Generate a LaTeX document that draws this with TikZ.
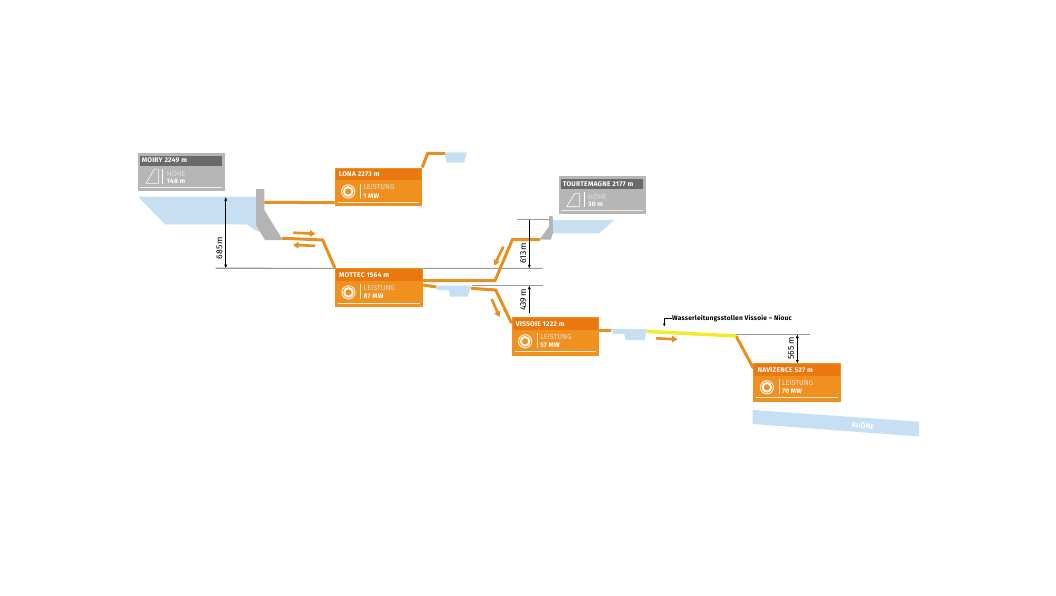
\documentclass[tikz,border=0pt]{standalone}
\usepackage{fontspec}
\setmainfont{Fira Sans}
\usetikzlibrary{arrows.meta,calc}
\definecolor{plantorange}{HTML}{F0901F}
\definecolor{bandorange}{HTML}{E8780F}
\definecolor{pipeorange}{HTML}{E8901F}
\definecolor{waterblue}{HTML}{C6DFF3}
\definecolor{boxgrey}{HTML}{B6B6B6}
\definecolor{bandgrey}{HTML}{6A6A6A}
\definecolor{damgrey}{HTML}{B4B4B4}
\definecolor{ruleline}{HTML}{999999}
\definecolor{tunnel}{HTML}{F4EA2A}
\newfontface\spaced[LetterSpace=3,BoldFont={* Bold}]{Fira Sans}
\newfontface\spacedbold[LetterSpace=3]{Fira Sans Bold}
\tikzset{
  plantbox/.style={fill=plantorange,anchor=north west,inner sep=0pt,outer sep=0pt,minimum width=87.5pt,minimum height=38.7pt},
  infobox/.style={fill=boxgrey,anchor=north west,inner sep=0pt,outer sep=0pt,minimum width=87pt,minimum height=38.4pt},
  titletext/.style={anchor=west,inner sep=0pt,text=white,font=\spacedbold\fontsize{6.8}{7}\selectfont},
  lighttext/.style={anchor=west,inner sep=0pt,text=white!88!black,font=\fontsize{7.2}{8}\selectfont},
  valtext/.style={anchor=west,inner sep=0pt,text=white,font=\spacedbold\fontsize{6.6}{7}\selectfont},
  pipe/.style={draw=pipeorange,line width=3pt,line join=miter},
  flow/.style={draw=pipeorange,line width=2.6pt,-{Triangle[length=5.5pt,width=6.5pt]}},
  level/.style={draw=ruleline,line width=1.1pt},
  dimline/.style={draw=black,line width=0.5pt,{Latex[length=3.5pt,width=3pt]}-{Latex[length=3.5pt,width=3pt]}},
  dimtext/.style={rotate=90,inner sep=0pt,text=black,font=\fontsize{8.6}{9}\selectfont},
  water/.style={fill=waterblue,draw=none},
  dam/.style={fill=damgrey,draw=none}
}
\newcommand{\plantbox}[5]{%
  \node[plantbox] (#1) at (#2,#3) {};
  \begin{scope}[shift={(#2,#3)}]
    \fill[bandorange] (1,1) rectangle (86.5,12.3);
    \node[titletext] (#1title) at (4,7) {#4};
    \draw[white,line width=1.1pt,opacity=.75] (13.5,24) circle (6.6);
    \draw[white,line width=2pt,opacity=.95] (13.5,24) circle (4.3);
    \draw[white!85!plantorange,line width=0.5pt] (25.5,16) -- (25.5,31);
    \node[lighttext] (#1label) at (28.5,20) {LEISTUNG};
    \node[valtext] (#1power) at (28.5,28.3) {#5};
    \draw[white!80!plantorange,line width=0.7pt] (3,34.5) -- (84.5,34.5);
  \end{scope}}
\newcommand{\infobox}[7]{%
  \node[infobox] (#1) at (#2,#3) {};
  \begin{scope}[shift={(#2,#3)}]
    \fill[bandgrey] (2.5,3) rectangle (84.5,13);
    \node[titletext] (#1title) at (4,8) {#4};
    \draw[white,line width=0.6pt,line join=round] #6;
    \draw[white,line width=0.5pt] (#7,16.5) -- (#7,31.5);
    \node[lighttext] (#1label) at (#7+4,20.8) {HÖHE};
    \node[valtext] (#1power) at (#7+4,28.6) {#5};
    \draw[white!75!boxgrey,line width=0.7pt] (2.5,35) -- (84.5,35);
  \end{scope}}
\begin{document}
\begin{tikzpicture}[x=1pt,y=-1pt]
\useasboundingbox (0,0) rectangle (1056,595);
\fill[white] (0,0) rectangle (1056,595);

% water
\fill[water] (138,196.7) -- (260,196.7) -- (260,231.7) -- (258,231.7) -- (246.7,224.3) -- (165,224.3) -- cycle;
\fill[water] (444.3,152.3) -- (466.7,152.3) -- (464.3,162.7) -- (446.7,162.7) -- cycle;
\fill[water] (551,220) -- (614,220) -- (599.3,233.3) -- (551,233.3) -- cycle;
\fill[water] (435,285.7) -- (471,285.7) -- (467.7,296.7) -- (450,296.7) -- (449,290) -- (437.7,290) -- cycle;
\fill[water] (611,329) -- (646.7,329) -- (645,340) -- (625.5,340) -- (624.3,333.8) -- (613,333.8) -- cycle;
\fill[water] (752.7,410) -- (919,421.7) -- (919,436.5) -- (752.7,424) -- cycle;
\node[rotate=-4,inner sep=0pt,text=white,font=\fontsize{7}{7}\selectfont\bfseries] (rhone) at (863,425.5) {RHÔNE};

% dams
\fill[dam] (256,189) -- (264.3,189) -- (264.3,210) -- (282.7,240) -- (265,240) -- (256,225) -- cycle;
\fill[dam] (549,216) -- (552.7,216) -- (553,233) -- (550.7,239.7) -- (539.3,239.7) -- (549,226.7) -- cycle;

% level rules
\coordinate (moiryRuleL) at (215.7,268.2);
\coordinate (mottecRuleE) at (542.7,268.3);
\coordinate (mottecRule2W) at (471.7,285.7);
\coordinate (mottecRule2E) at (542.7,285.7);
\coordinate (tourRuleW) at (517.3,219.7);
\coordinate (tourRuleE) at (549,219.7);
\coordinate (nivRuleW) at (736,334.5);
\coordinate (nivRuleE) at (810,334.5);

% boxes
\infobox{moiry}{137.7}{152.6}{MOIRY 2249 m}{148 m}{(8.3,30.8) -- (16.5,16.5) -- (20.7,16.5) -- (20.7,30.8) -- cycle}{25}
\infobox{tour}{558.7}{175.7}{TOURTEMAGNE 2177 m}{30 m}{(8,31) -- (16.3,17.6) -- (20.6,17.6) -- (20.6,31) -- cycle}{25.3}
\plantbox{lona}{334.7}{167.5}{LONA 2273 m}{1 MW}
\plantbox{mottec}{335}{268.4}{MOTTEC 1564 m}{87 MW}
\plantbox{vissoie}{511.6}{317.3}{VISSOIE 1222 m}{57 MW}
\plantbox{navizence}{753.4}{363.3}{NAVIZENCE 527 m}{70 MW}

\draw[level] (moiryRuleL) -- (mottec.north west);
\draw[level] (mottec.north east) -- (mottecRuleE);
\draw[level] (mottecRule2W) -- (mottecRule2E);
\draw[level] (tourRuleW) -- (tourRuleE);
\draw[level] (nivRuleW) -- (nivRuleE);

% pipes
\coordinate (moiryOut) at (264.3,202.4);
\coordinate (moiryDown) at (282,238.2);
\coordinate (moiryBend) at (322.7,240);
\coordinate (lonaBend) at (427.7,153.3);
\coordinate (lonaRes) at (445,153.3);
\coordinate (mottecBend) at (495,280.7);
\coordinate (tourBend) at (512.3,239.7);
\coordinate (tourDam) at (540,239.7);
\coordinate (mottecRes) at (436,287);
\coordinate (resOut) at (471,288.3);
\coordinate (resBend) at (495.7,290);
\coordinate (vissRes) at (611,330);
\coordinate (tunnelW) at (646.7,331.4);
\coordinate (tunnelE) at (736,336);

\draw[pipe] (moiryOut) -- ([yshift=3.6pt]lona.south west);
\draw[pipe] (moiryDown) -- (moiryBend) -- (mottec.north west);
\draw[pipe] (lona.north east) -- (lonaBend) -- (lonaRes);
\draw[pipe] ([yshift=-12.3pt]mottec.north east) -- (mottecBend) -- (tourBend) -- (tourDam);
\draw[pipe] ([yshift=-16.5pt]mottec.north east) -- (mottecRes);
\draw[pipe] (resOut) -- (resBend) -- ([yshift=-6pt]vissoie.north west);
\draw[pipe] ([yshift=-12.7pt]vissoie.north east) -- (vissRes);
\draw[pipe] (tunnelE) -- ([yshift=-5pt]navizence.north west);
\draw[draw=tunnel,line width=3.4pt] (tunnelW) -- (tunnelE);

% flow arrows
\coordinate (f1a) at (293.3,232.7); \coordinate (f1b) at (315.5,233.8);
\coordinate (f2a) at (315,245.8); \coordinate (f2b) at (293,245);
\coordinate (f3a) at (503.3,246.7); \coordinate (f3b) at (494.3,265.5);
\coordinate (f4a) at (491.7,299); \coordinate (f4b) at (499.5,317);
\coordinate (f5a) at (656,338.3); \coordinate (f5b) at (677.5,339.4);
\draw[flow] (f1a) -- (f1b);
\draw[flow] (f2a) -- (f2b);
\draw[flow] (f3a) -- (f3b);
\draw[flow] (f4a) -- (f4b);
\draw[flow] (f5a) -- (f5b);

% dimensions
\coordinate (d1a) at (225.7,197); \coordinate (d1b) at (225.7,268.2);
\coordinate (d2a) at (529.3,219.7); \coordinate (d2b) at (529.3,268.3);
\coordinate (d3a) at (529.3,285.7); \coordinate (d3b) at (529.3,313.3);
\coordinate (d4a) at (797.3,334.5); \coordinate (d4b) at (797.3,363.3);
\draw[dimline] (d1a) -- (d1b);
\draw[draw=black,line width=0.5pt,-{Latex[length=3.5pt,width=3pt]}] (d2a) -- (d2b);
\draw[draw=black,line width=0.5pt,{Latex[length=3.5pt,width=3pt]}-] (d3a) -- (d3b);
\draw[dimline] (d4a) -- (d4b);
\node[dimtext] (t685) at (219.5,248) {685\,m};
\node[dimtext] (t613) at (523.3,253.3) {613\,m};
\node[dimtext] (t439) at (523.3,300) {439\,m};
\node[dimtext] (t565) at (791,348.5) {565\,m};

% callout
\node[anchor=west,inner sep=0pt,text=black,font=\spacedbold\fontsize{6.6}{7}\selectfont] (callout) at (672,318.3) {Wasserleitungsstollen Vissoie – Niouc};
\coordinate (calloutTip) at (664.3,326.5);
\draw[draw=black,line width=0.5pt,-{Latex[length=3pt,width=3pt]}] (callout.west) -| (calloutTip);
\end{tikzpicture}
\end{document}
